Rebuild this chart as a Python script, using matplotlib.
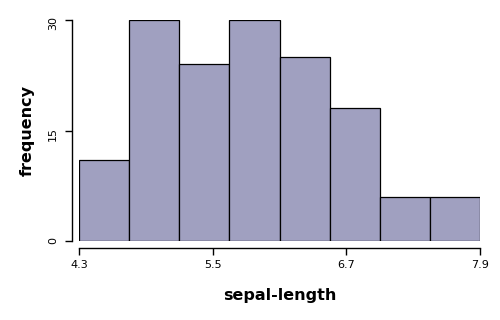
import matplotlib
matplotlib.use("Agg")
import matplotlib.pyplot as plt

# iris sepal length histogram
bin_edges = [4.3, 4.75, 5.2, 5.65, 6.1, 6.55, 7.0, 7.45, 7.9]
counts = [11, 30, 24, 30, 25, 18, 6, 6]
x_ticks = [4.3, 5.5, 6.7, 7.9]
y_ticks = [0, 15, 30]

fig = plt.figure(figsize=(5, 3.2), dpi=100)
ax = fig.add_axes([0.158, 0.247, 0.802, 0.69])

widths = [bin_edges[i + 1] - bin_edges[i] for i in range(len(counts))]
ax.bar(bin_edges[:-1], counts, width=widths, align="edge",
       color="#a0a0c0", edgecolor="black", linewidth=0.9)

ax.set_xlim(4.3, 7.9)
ax.set_ylim(0, 30)
ax.set_xticks(x_ticks)
ax.set_xticklabels([str(v) for v in x_ticks])
ax.set_yticks(y_ticks)
ax.set_yticklabels([str(v) for v in y_ticks])
ax.tick_params(labelsize=8, length=5, width=1, colors="black")
ax.tick_params(axis="y", labelrotation=90, pad=5)
for lbl in ax.get_yticklabels():
    lbl.set_va("center")

for s in ["top", "right"]:
    ax.spines[s].set_visible(False)
for s in ["left", "bottom"]:
    ax.spines[s].set_position(("outward", 5))
    ax.spines[s].set_linewidth(1)

ax.set_xlabel("sepal-length", fontsize=11.5, fontweight="bold", labelpad=13)
ax.set_ylabel("frequency", fontsize=11.5, fontweight="bold", labelpad=10)

fig.savefig("out.png", dpi=100)
